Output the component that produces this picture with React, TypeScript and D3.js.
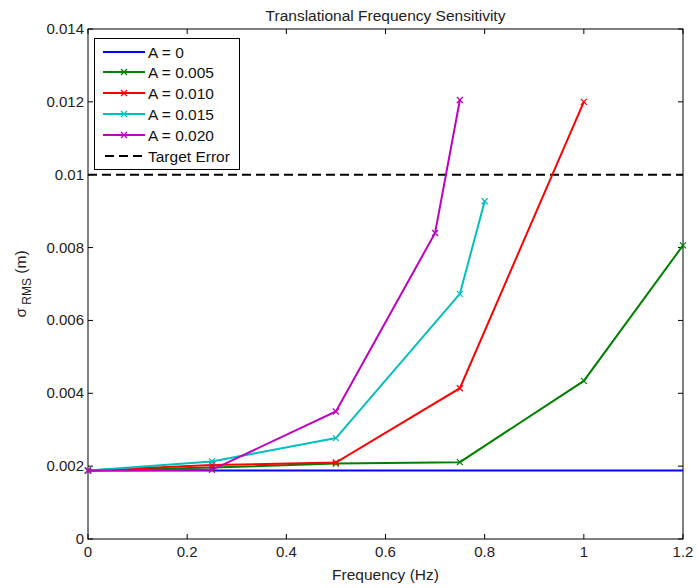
import { useEffect, useRef } from 'react';
import * as d3 from 'd3';

// frequency values (Hz) and sigma RMS (m) per amplitude
const freqA0 = [0, 1.2];
const sigmaA0 = [0.00188, 0.00188];
const freqA005 = [0, 0.25, 0.5, 0.75, 1.0, 1.2];
const sigmaA005 = [0.00188, 0.00196, 0.00207, 0.00211, 0.00434, 0.00806];
const freqA010 = [0, 0.25, 0.5, 0.75, 1.0];
const sigmaA010 = [0.00188, 0.00203, 0.00210, 0.00414, 0.01200];
const freqA015 = [0, 0.25, 0.5, 0.75, 0.8];
const sigmaA015 = [0.00188, 0.00213, 0.00277, 0.00673, 0.00927];
const freqA020 = [0, 0.25, 0.5, 0.7, 0.75];
const sigmaA020 = [0.00188, 0.00190, 0.00350, 0.00840, 0.01205];
const targetError = 0.01;

const seriesNames = ['A = 0', 'A = 0.005', 'A = 0.010', 'A = 0.015', 'A = 0.020'];
const seriesColors = ['#0000ff', '#008000', '#ff0000', '#00bfbf', '#bf00bf'];
const xTicks = [0, 0.2, 0.4, 0.6, 0.8, 1, 1.2];
const yTicks = [0, 0.002, 0.004, 0.006, 0.008, 0.01, 0.012, 0.014];
const yTickLabels = ['0', '0.002', '0.004', '0.006', '0.008', '0.01', '0.012', '0.014'];

const App = () => {
  const ref = useRef<SVGSVGElement>(null);

  useEffect(() => {
    if (!ref.current) return;
    const W = 697, H = 588;
    const margin = { top: 29, right: 14, bottom: 49, left: 88 };
    const font = '"Liberation Sans", Arial, sans-serif';

    const svg = d3.select(ref.current);
    svg.selectAll('*').remove();
    svg.attr('width', W).attr('height', H);
    svg.append('rect').attr('width', W).attr('height', H).attr('fill', '#fff');

    const x = d3.scaleLinear().domain([0, 1.2]).range([margin.left, W - margin.right]);
    const y = d3.scaleLinear().domain([0, 0.014]).range([H - margin.bottom, margin.top]);
    const [x0, x1] = x.range();
    const [y0, y1] = y.range();

    const g = svg.append('g');

    // axes box
    g.append('rect')
      .attr('x', x0).attr('y', y1)
      .attr('width', x1 - x0).attr('height', y0 - y1)
      .attr('fill', 'none').attr('stroke', '#000').attr('stroke-width', 1);

    // ticks (inside, mirrored)
    const tl = 5;
    xTicks.forEach(t => {
      g.append('line').attr('x1', x(t)).attr('x2', x(t)).attr('y1', y0).attr('y2', y0 - tl).attr('stroke', '#000');
      g.append('line').attr('x1', x(t)).attr('x2', x(t)).attr('y1', y1).attr('y2', y1 + tl).attr('stroke', '#000');
      g.append('text').attr('x', x(t)).attr('y', y0 + 18)
        .attr('text-anchor', 'middle').style('font-family', font).style('font-size', '15px').attr('fill', '#222')
        .text(String(t));
    });
    yTicks.forEach((t, i) => {
      g.append('line').attr('x1', x0).attr('x2', x0 + tl).attr('y1', y(t)).attr('y2', y(t)).attr('stroke', '#000');
      g.append('line').attr('x1', x1).attr('x2', x1 - tl).attr('y1', y(t)).attr('y2', y(t)).attr('stroke', '#000');
      g.append('text').attr('x', x0 - 4).attr('y', y(t) + 5)
        .attr('text-anchor', 'end').style('font-family', font).style('font-size', '15px').attr('fill', '#222')
        .text(yTickLabels[i]);
    });

    // target error line
    g.append('line')
      .attr('x1', x(0)).attr('x2', x(1.2)).attr('y1', y(targetError)).attr('y2', y(targetError))
      .attr('stroke', '#000').attr('stroke-width', 2).attr('stroke-dasharray', '9,5');

    const allSeries = [
      { xs: freqA0, ys: sigmaA0, marker: false },
      { xs: freqA005, ys: sigmaA005, marker: true },
      { xs: freqA010, ys: sigmaA010, marker: true },
      { xs: freqA015, ys: sigmaA015, marker: true },
      { xs: freqA020, ys: sigmaA020, marker: true },
    ];

    const line = d3.line<[number, number]>().x(d => x(d[0])).y(d => y(d[1]));
    const ms = 3;

    allSeries.forEach((s, i) => {
      const pts: [number, number][] = s.xs.map((v, j) => [v, s.ys[j]]);
      g.append('path').attr('d', line(pts)!)
        .attr('fill', 'none').attr('stroke', seriesColors[i]).attr('stroke-width', 2);
      if (s.marker) {
        pts.forEach(p => {
          const cx = x(p[0]), cy = y(p[1]);
          g.append('path')
            .attr('d', `M${cx - ms},${cy - ms}L${cx + ms},${cy + ms}M${cx - ms},${cy + ms}L${cx + ms},${cy - ms}`)
            .attr('stroke', seriesColors[i]).attr('stroke-width', 1.3);
        });
      }
    });

    // legend
    const lg = svg.append('g');
    lg.append('rect').attr('x', 94.5).attr('y', 38.5).attr('width', 145).attr('height', 131)
      .attr('fill', '#fff').attr('stroke', '#000').attr('stroke-width', 1);
    const rowY = [52, 72, 93, 114, 135, 156];
    const lfs = '15.5px';
    seriesNames.forEach((name, i) => {
      const ry = rowY[i];
      lg.append('line').attr('x1', 103).attr('x2', 145).attr('y1', ry).attr('y2', ry)
        .attr('stroke', seriesColors[i]).attr('stroke-width', 2);
      if (i > 0) {
        const cx = 124;
        lg.append('path')
          .attr('d', `M${cx - ms},${ry - ms}L${cx + ms},${ry + ms}M${cx - ms},${ry + ms}L${cx + ms},${ry - ms}`)
          .attr('stroke', seriesColors[i]).attr('stroke-width', 1.3);
      }
      lg.append('text').attr('x', 148).attr('y', ry + 5.5)
        .style('font-family', font).style('font-size', lfs).attr('fill', '#111').text(name);
    });
    lg.append('line').attr('x1', 105).attr('x2', 145).attr('y1', rowY[5]).attr('y2', rowY[5])
      .attr('stroke', '#000').attr('stroke-width', 2).attr('stroke-dasharray', '9,5');
    lg.append('text').attr('x', 148).attr('y', rowY[5] + 5.5)
      .style('font-family', font).style('font-size', lfs).attr('fill', '#111').text('Target Error');

    // title
    svg.append('text').attr('x', (x0 + x1) / 2).attr('y', 21)
      .attr('text-anchor', 'middle').style('font-family', font).style('font-size', '15.5px').attr('fill', '#222')
      .text('Translational Frequency Sensitivity');

    // x label
    svg.append('text').attr('x', (x0 + x1) / 2).attr('y', 580)
      .attr('text-anchor', 'middle').style('font-family', font).style('font-size', '15.5px').attr('fill', '#222')
      .text('Frequency (Hz)');

    // y label with subscript
    const yl = svg.append('text')
      .attr('transform', `translate(26, ${(y0 + y1) / 2}) rotate(-90)`)
      .attr('text-anchor', 'middle').style('font-family', font).style('font-size', '15.5px').attr('fill', '#222');
    yl.append('tspan').text('σ');
    yl.append('tspan').attr('dy', 5).style('font-size', '12px').text(' RMS');
    yl.append('tspan').attr('dy', -5).text(' (m)');
  }, []);

  return <svg ref={ref} style={{ position: 'absolute', left: 0, top: 0, display: 'block' }} />;
};

export default App;
